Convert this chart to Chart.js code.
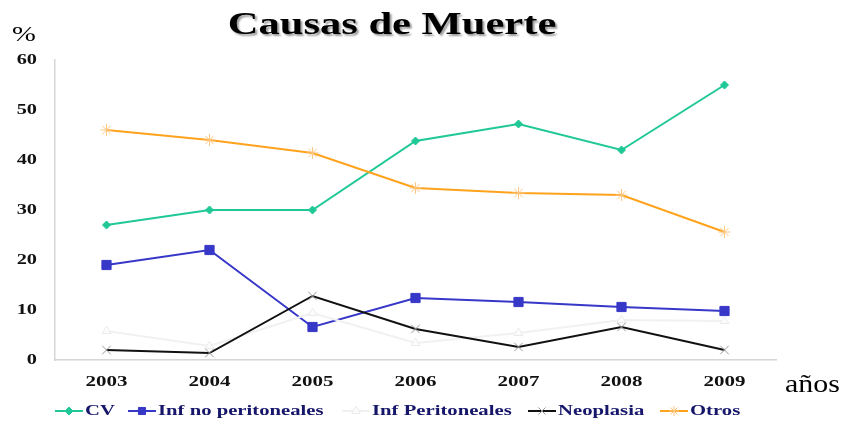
<!DOCTYPE html>
<html>
<head>
<meta charset="utf-8">
<script src="https://cdn.jsdelivr.net/npm/chart.js@4.4.1/dist/chart.umd.min.js"></script>
<style>
  html, body { margin: 0; padding: 0; background: #fff; }
  #wrap { width: 846px; height: 426px; position: relative; }
</style>
</head>
<body>
<div id="wrap"><canvas id="causasChart" width="846" height="426"></canvas></div>
<script>
// Values (%)
const years = ['2003', '2004', '2005', '2006', '2007', '2008', '2009'];
const cv = [27, 30, 30, 43.8, 47.2, 42, 55];
const infNoPeritoneales = [19, 22, 6.6, 12.4, 11.6, 10.6, 9.8];
const infPeritoneales = [5.8, 2.8, 9.4, 3.4, 5.4, 8, 7.8];
const neoplasia = [2, 1.4, 12.8, 6.2, 2.6, 6.6, 2];
const otros = [46, 44, 41.4, 34.4, 33.4, 33, 25.6];
const yTicks = [0, 10, 20, 30, 40, 50, 60];

const SERIF = '"Liberation Serif", "Times New Roman", serif';

// draw text squeezed/stretched horizontally (the source image is widened)
function stretchText(ctx, text, x, y, align, sx) {
    ctx.save();
    ctx.translate(x, y);
    ctx.scale(sx, 1);
    ctx.textAlign = align;
    ctx.fillText(text, 0, 0);
    ctx.restore();
}

function makeSet(label, data, color, style, radius, ptBorder, ptFill, idx) {
    return {
        label: label,
        data: data,
        borderColor: color,
        borderWidth: 2,
        pointStyle: style,
        pointRadius: radius,
        pointHoverRadius: radius,
        pointBorderColor: ptBorder,
        pointBackgroundColor: ptFill,
        pointBorderWidth: 1,
        tension: 0,
        fill: false,
        order: 5 - idx // later series on top
    };
}

const legendStarts = [55, 128, 342, 528, 660];

const decorPlugin = {
    id: 'decor',
    afterDraw(chart) {
        const ctx = chart.ctx;
        const xs = chart.scales.x;
        const ys = chart.scales.y;
        ctx.save();

        // title with shadow
        ctx.font = 'bold 32px ' + SERIF;
        ctx.fillStyle = '#000';
        ctx.textBaseline = 'alphabetic';
        ctx.shadowColor = 'rgba(0,0,0,0.4)';
        ctx.shadowOffsetX = 2;
        ctx.shadowOffsetY = 2;
        ctx.shadowBlur = 2;
        stretchText(ctx, 'Causas de Muerte', 392, 34, 'center', 1.33);
        ctx.shadowColor = 'transparent';

        // unit labels
        ctx.font = '22px ' + SERIF;
        stretchText(ctx, '%', 12, 41, 'left', 1.3);
        ctx.font = '26px ' + SERIF;
        stretchText(ctx, 'años', 785, 392, 'left', 1.15);

        // tick labels
        ctx.fillStyle = '#111';
        ctx.textBaseline = 'middle';
        ctx.font = 'bold 14px ' + SERIF;
        yTicks.forEach(v => {
            stretchText(ctx, String(v), 37, ys.getPixelForValue(v), 'right', 1.45);
        });
        ctx.font = 'bold 15px ' + SERIF;
        years.forEach((y, i) => {
            stretchText(ctx, y, xs.getPixelForTick(i), 382, 'center', 1.4);
        });

        // legend: line sample with marker, then label
        const ly = 411;
        chart.data.datasets.forEach((ds, i) => {
            const x0 = legendStarts[i];
            ctx.strokeStyle = ds.borderColor;
            ctx.lineWidth = 2;
            ctx.beginPath();
            ctx.moveTo(x0, ly);
            ctx.lineTo(x0 + 28, ly);
            ctx.stroke();
            ctx.fillStyle = ds.pointBackgroundColor;
            ctx.strokeStyle = ds.pointBorderColor;
            ctx.lineWidth = ds.pointBorderWidth;
            Chart.helpers.drawPoint(ctx, {
                pointStyle: ds.pointStyle,
                radius: Math.min(ds.pointRadius, 5),
                rotation: 0,
                borderWidth: ds.pointBorderWidth
            }, x0 + 14, ly);
            ctx.fillStyle = '#16166a';
            ctx.font = 'bold 15px ' + SERIF;
            ctx.textBaseline = 'middle';
            stretchText(ctx, ds.label, x0 + 30, ly, 'left', 1.38);
        });

        ctx.restore();
    }
};

const ctx = document.getElementById('causasChart').getContext('2d');

new Chart(ctx, {
    type: 'line',
    data: {
        labels: years,
        datasets: [
            makeSet('CV', cv, '#1fc896', 'rectRot', 4, '#1fc896', '#1fc896', 0),
            makeSet('Inf no peritoneales', infNoPeritoneales, '#3737c8', 'rect', 6.5, '#3737c8', '#3737c8', 1),
            makeSet('Inf Peritoneales', infPeritoneales, '#f1f1f1', 'triangle', 5, '#ebebeb', '#fcfcfc', 2),
            makeSet('Neoplasia', neoplasia, '#111111', 'crossRot', 6, '#999999', '#999999', 3),
            makeSet('Otros', otros, '#ffa21c', 'star', 6, '#ffc782', '#ffc782', 4)
        ]
    },
    options: {
        responsive: false,
        animation: false,
        devicePixelRatio: 1,
        layout: {
            padding: { left: 55, right: 70, top: 60, bottom: 66 }
        },
        plugins: {
            legend: { display: false },
            title: { display: false },
            tooltip: { enabled: false }
        },
        scales: {
            x: {
                type: 'category',
                offset: true,
                grid: { display: false, drawTicks: false },
                border: { display: true, color: '#d6d6d6', width: 1.5 },
                ticks: { display: false },
                afterFit(scale) { scale.height = 0; }
            },
            y: {
                min: 0,
                max: 60,
                grid: { display: false, drawTicks: false },
                border: { display: true, color: '#d6d6d6', width: 1.5 },
                ticks: { display: false, stepSize: 10 },
                afterFit(scale) { scale.width = 0; }
            }
        }
    },
    plugins: [decorPlugin]
});
</script>
</body>
</html>
